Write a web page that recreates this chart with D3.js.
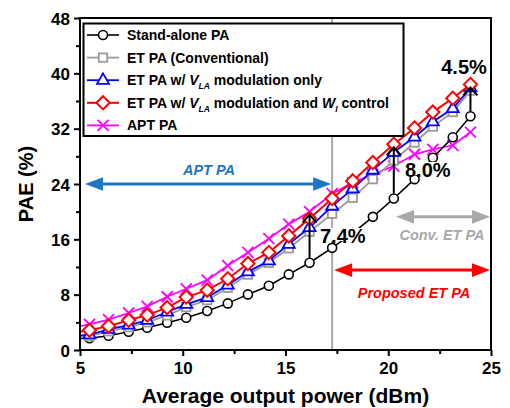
<!DOCTYPE html>
<html>
<head>
<meta charset="utf-8">
<script src="https://cdn.jsdelivr.net/npm/d3@7"></script>
<style>
  body { margin: 0; background: #fff; }
  text { font-family: "Liberation Sans", Arial, sans-serif; font-weight: bold; }
</style>
</head>
<body>
<svg id="chart" width="510" height="408"></svg>
<script>
// Average output power (dBm) of each measured point
const power = [4.5, 5.46, 6.39, 7.37, 8.27, 9.24, 10.17, 11.19, 12.19, 13.17, 14.19,
               15.16, 16.17, 17.27, 18.27, 19.25, 20.27, 21.28, 22.17, 23.14, 24.0];

// PAE (%) per configuration
const standAlone = [1.6, 1.7, 2.07, 2.64, 3.22, 3.94, 4.66, 5.63, 6.74, 8.04, 9.28,
                    10.93, 12.61, 14.77, 16.9, 19.25, 21.9, 24.7, 27.8, 30.75, 33.8];
const etConventional = [1.8, 2.0, 2.7, 3.3, 4.0, 5.0, 6.2, 7.2, 9.0, 10.9, 12.6,
                        14.7, 17.1, 19.7, 22.0, 24.7, 27.4, 30.0, 32.3, 34.4, 37.5];
const etVlaOnly = [2.0, 2.2, 3.0, 3.6, 4.3, 5.5, 6.6, 7.6, 9.4, 11.3, 12.9,
                   15.3, 17.7, 20.8, 23.3, 26.0, 28.6, 30.8, 33.0, 34.9, 37.9];
const etVlaWi = [2.4, 2.85, 3.45, 4.3, 5.05, 6.13, 7.65, 8.65, 10.3, 12.5, 14.1,
                 16.5, 19.0, 21.9, 24.45, 27.1, 29.75, 32.1, 34.4, 36.4, 38.4];
const aptPA = [3.2, 3.7, 4.4, 5.35, 6.3, 7.7, 8.85, 10.1, 12.2, 14.1, 16.1,
               18.2, 20.0, 22.6, 24.2, 25.4, 26.6, 28.3, 29.0, 29.6, 31.5];

// Axis ticks
const xTicks = [5, 10, 15, 20, 25];
const xMinorTicks = [7.5, 12.5, 17.5, 22.5];
const yTicks = [0, 8, 16, 24, 32, 40, 48];
const yMinorTicks = [4, 12, 20, 28, 36, 44];

// Boundary between the APT and ET operating regions (dBm)
const regionBoundary = 17.27;

// PAE improvement call-outs: power, lower PAE, upper PAE, label
const gainPower = [16.17, 20.27, 24.0];
const gainFrom = [12.61, 21.9, 33.8];
const gainTo = [20.0, 29.75, 38.4];
const gainLabels = ["7.4%", "8.0%", "4.5%"];

const svg = d3.select("#chart");
const x = d3.scaleLinear().domain([5, 25]).range([80, 491]);
const y = d3.scaleLinear().domain([0, 48]).range([350, 18]);

const defs = svg.append("defs");
defs.append("clipPath").attr("id", "plotClip")
  .append("rect").attr("x", x(5)).attr("y", y(48))
  .attr("width", x(25) - x(5)).attr("height", y(0) - y(48));

// Region divider
svg.append("line")
  .attr("x1", x(regionBoundary)).attr("x2", x(regionBoundary))
  .attr("y1", y(48)).attr("y2", y(0))
  .attr("stroke", "#a9a9a9").attr("stroke-width", 2);

// Marker shapes
const markers = {
  circle: g => g.append("circle").attr("r", 4.5),
  square: g => g.append("rect").attr("x", -4.2).attr("y", -4.2).attr("width", 8.4).attr("height", 8.4),
  triangle: g => g.append("path").attr("d", "M0,-6.8L6,3.6L-6,3.6Z"),
  diamond: g => g.append("path").attr("d", "M0,-6.6L6.6,0L0,6.6L-6.6,0Z"),
  cross: g => g.append("path").attr("d", "M-5.5,-5.5L5.5,5.5M-5.5,5.5L5.5,-5.5").attr("fill", "none")
};

const series = [
  { name: "apt", values: aptPA, color: "#ff00ff", marker: "cross", width: 1.8 },
  { name: "standalone", values: standAlone, color: "#000000", marker: "circle", width: 1.6 },
  { name: "conv", values: etConventional, color: "#9a9a9a", marker: "square", width: 1.8 },
  { name: "vla", values: etVlaOnly, color: "#0000ff", marker: "triangle", width: 1.8 },
  { name: "vlawi", values: etVlaWi, color: "#ff0000", marker: "diamond", width: 2 }
];

const plot = svg.append("g").attr("clip-path", "url(#plotClip)");
const line = d3.line().x(d => x(d[0])).y(d => y(d[1]));

series.forEach(s => {
  const pts = power.map((p, i) => [p, s.values[i]]);
  const g = plot.append("g");
  g.append("path").datum(pts).attr("d", line)
    .attr("fill", "none").attr("stroke", s.color).attr("stroke-width", s.width);
  g.selectAll("g.m").data(pts).join("g").attr("class", "m")
    .attr("transform", d => `translate(${x(d[0])},${y(d[1])})`)
    .each(function () {
      markers[s.marker](d3.select(this))
        .attr("fill", s.marker === "cross" ? "none" : "#fff")
        .attr("stroke", s.color).attr("stroke-width", s.width);
    });
});

// Frame
svg.append("rect")
  .attr("x", x(5)).attr("y", y(48))
  .attr("width", x(25) - x(5)).attr("height", y(0) - y(48))
  .attr("fill", "none").attr("stroke", "#000").attr("stroke-width", 2);

// Axes
const xAxis = svg.append("g").attr("transform", `translate(0,${y(0)})`)
  .call(d3.axisBottom(x).tickValues(xTicks).tickSize(6).tickFormat(d3.format("d")));
svg.append("g").attr("transform", `translate(0,${y(0)})`)
  .call(d3.axisBottom(x).tickValues(xMinorTicks).tickSize(4).tickFormat(""));
const yAxis = svg.append("g").attr("transform", `translate(${x(5)},0)`)
  .call(d3.axisLeft(y).tickValues(yTicks).tickSize(6).tickFormat(d3.format("d")));
svg.append("g").attr("transform", `translate(${x(5)},0)`)
  .call(d3.axisLeft(y).tickValues(yMinorTicks).tickSize(4).tickFormat(""));

svg.selectAll(".domain").remove();
svg.selectAll(".tick line").attr("stroke", "#000").attr("stroke-width", 2);
xAxis.selectAll("text").attr("y", 24).attr("dy", 0)
  .style("font-size", "17px").attr("fill", "#000");
yAxis.selectAll("text").attr("x", -10).attr("dy", "0.36em")
  .style("font-size", "17px").attr("fill", "#000");

// Axis titles
svg.append("text").attr("x", (x(5) + x(25)) / 2).attr("y", 403)
  .attr("text-anchor", "middle").style("font-size", "21px")
  .text("Average output power (dBm)");
svg.append("text")
  .attr("transform", `translate(33,${(y(0) + y(48)) / 2}) rotate(-90)`)
  .attr("text-anchor", "middle").style("font-size", "20px")
  .text("PAE (%)");

// Range arrows with filled heads at both ends
function rangeArrow(x1, x2, yy, color) {
  const len = 18, half = 6.8;
  svg.append("line").attr("x1", x1 + len - 2).attr("x2", x2 - len + 2)
    .attr("y1", yy).attr("y2", yy).attr("stroke", color).attr("stroke-width", 3);
  svg.append("path")
    .attr("d", `M${x1},${yy}L${x1 + len},${yy - half}L${x1 + len},${yy + half}Z` +
               `M${x2},${yy}L${x2 - len},${yy - half}L${x2 - len},${yy + half}Z`)
    .attr("fill", color);
}
rangeArrow(x(5) + 5, x(regionBoundary) - 1, y(24), "#1c76c2");
rangeArrow(x(20.38), x(25) - 1, y(19.25), "#a9a9a9");
rangeArrow(x(regionBoundary) + 2, x(25) - 1, y(11.55), "#ff0000");

function regionLabel(cx, by, txt, color) {
  svg.append("text").attr("x", cx).attr("y", by).attr("text-anchor", "middle")
    .style("font-size", "14.5px").style("font-style", "italic")
    .attr("fill", color).text(txt);
}
regionLabel(209, 175, "APT PA", "#1c76c2");
regionLabel(442, 240, "Conv. ET PA", "#a9a9a9");
regionLabel(414, 298, "Proposed ET PA", "#ff0000");

// Improvement arrows (open head) from the stand-alone curve upward
gainPower.forEach((p, i) => {
  const xx = x(p), y1 = y(gainFrom[i]) - 5, y2 = y(gainTo[i]) + 3;
  svg.append("path")
    .attr("d", `M${xx},${y1}L${xx},${y2}M${xx - 7},${y2 + 8}L${xx},${y2}L${xx + 7},${y2 + 8}`)
    .attr("fill", "none").attr("stroke", "#000").attr("stroke-width", 2);
});

// Improvement labels on a white backing
const labelPos = [[320, 243, "start"], [405, 177, "start"], [464, 74, "middle"]];
gainLabels.forEach((t, i) => {
  const [lx, ly, anchor] = labelPos[i];
  const g = svg.append("g");
  const bg = g.append("rect").attr("fill", "#fff");
  const tx = g.append("text").attr("x", lx).attr("y", ly).attr("text-anchor", anchor)
    .style("font-size", "20px").text(t);
  const b = tx.node().getBBox();
  bg.attr("x", b.x).attr("y", b.y + 3).attr("width", b.width).attr("height", b.height - 9);
});

// Legend
const legendX = 83.5, legendY = 23.5;
svg.append("rect").attr("x", legendX).attr("y", legendY)
  .attr("width", 320).attr("height", 112.5)
  .attr("fill", "#fff").attr("stroke", "#000").attr("stroke-width", 2);

const legendRows = [
  { s: 1, parts: [["Stand-alone PA"]] },
  { s: 2, parts: [["ET PA (Conventional)"]] },
  { s: 3, parts: [["ET PA w/ "], ["V", "i"], ["LA", "sub"], [" modulation only"]] },
  { s: 4, parts: [["ET PA w/ "], ["V", "i"], ["LA", "sub"], [" modulation and "], ["W", "i"], ["I", "sub"], [" control"]] },
  { s: 0, parts: [["APT PA"]] }
];
legendRows.forEach((row, i) => {
  const s = series[row.s];
  const cy = 35 + i * 22.6;
  const g = svg.append("g");
  g.append("line").attr("x1", 87).attr("x2", 119).attr("y1", cy).attr("y2", cy)
    .attr("stroke", s.color).attr("stroke-width", s.width);
  const m = g.append("g").attr("transform", `translate(103,${cy})`);
  markers[s.marker](m).attr("fill", s.marker === "cross" ? "none" : "#fff")
    .attr("stroke", s.color).attr("stroke-width", s.width);
  const t = g.append("text").attr("x", 127).attr("y", cy + 5).style("font-size", "14px");
  let lowered = false;
  row.parts.forEach(([str, kind]) => {
    const ts = t.append("tspan").text(str);
    if (kind === "sub") {
      ts.style("font-style", "italic").style("font-size", "8.5px").attr("dy", 4);
      lowered = true;
    } else {
      if (kind === "i") ts.style("font-style", "italic");
      if (lowered) { ts.attr("dy", -4); lowered = false; }
    }
  });
});
</script>
</body>
</html>
